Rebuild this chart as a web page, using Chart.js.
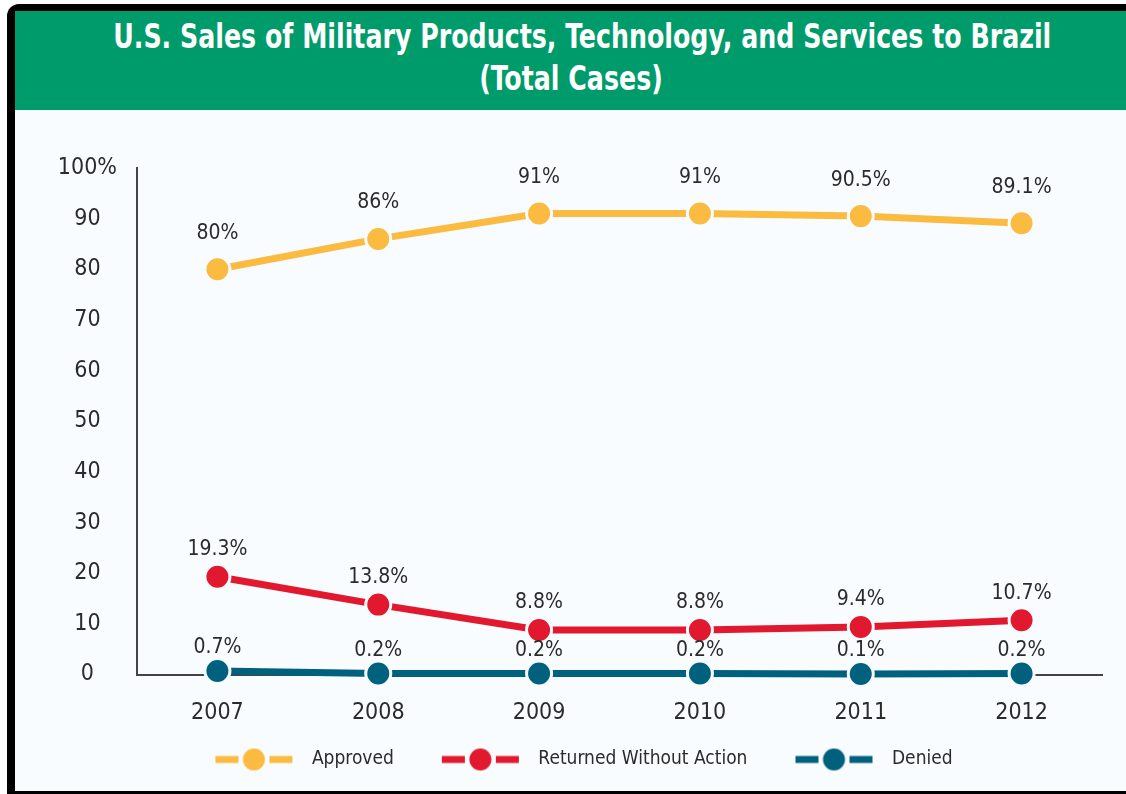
<!DOCTYPE html>
<html><head><meta charset="utf-8">
<script src="https://cdn.jsdelivr.net/npm/chart.js@4"></script>
<style>
html,body{margin:0;padding:0;background:#fff;width:1126px;height:794px;overflow:hidden;}
#frame{position:absolute;left:7px;top:4px;width:1130px;height:790px;background:#000;border-top-left-radius:12px;}
#inner{position:absolute;left:8px;top:7px;width:1111px;height:780px;background:#f8fcfe;}
#header{position:absolute;left:0;top:0;width:1111px;height:99px;background:#009b6b;color:#fff;text-align:center;font-family:'DejaVu Sans Condensed',sans-serif;font-weight:bold;font-size:34px;line-height:42px;padding-top:4px;box-sizing:border-box;}
#header span{display:inline-block;white-space:nowrap;transform-origin:50% 50%;}
#wrap{position:absolute;left:0;top:99px;width:1111px;height:681px;}
</style></head>
<body>
<div id="frame"><div id="inner">
<div id="header"><span id="t1">U.S. Sales of Military Products, Technology, and Services to Brazil</span><br><span id="t2">(Total Cases)</span></div>
<div id="wrap"><canvas id="c" width="1111" height="681"></canvas></div>
</div></div>
<script>
const years = ['2007','2008','2009','2010','2011','2012'];
const approved = [80, 86, 91, 91, 90.5, 89.1];
const returnedWithoutAction = [19.3, 13.8, 8.8, 8.8, 9.4, 10.7];
const denied = [0.7, 0.2, 0.2, 0.2, 0.1, 0.2];
const yTicks = [0,10,20,30,40,50,60,70,80,90,100];

// condense title horizontally to match the reference width
(function(){
  const t1=document.getElementById('t1'), t2=document.getElementById('t2');
  const k = 938 / t1.getBoundingClientRect().width;
  t1.style.transform='scaleX('+k+')';
  t2.style.transform='scaleX('+k+')';
})();

const FONT = "'DejaVu Sans Condensed',sans-serif";
const BG = '#f8fcfe';
const TXT = '#2b2b2b';
const YEL = '#fbba40', RED = '#e2182e', BLU = '#00617f';

function makeGlyph(color){
  const c=document.createElement('canvas'); c.width=125; c.height=26;
  const g=c.getContext('2d');
  g.fillStyle=color;
  g.fillRect(38,9.5,23,7);
  g.fillRect(92,9.5,23,7);
  g.beginPath(); g.arc(76.5,13,11,0,Math.PI*2); g.fill();
  return c;
}

const valueLabels = {
  id:'valueLabels',
  afterDatasetsDraw(chart){
    const ctx=chart.ctx; ctx.save();
    ctx.font = "21px " + FONT;
    ctx.fillStyle=TXT; ctx.textAlign='center'; ctx.textBaseline='middle';
    chart.data.datasets.forEach((ds,i)=>{
      const meta=chart.getDatasetMeta(i);
      meta.data.forEach((pt,j)=>{
        ctx.fillText(String(ds.data[j])+'%', pt.x, pt.y - ds.labelOffset);
      });
    });
    ctx.restore();
  }
};

function ds(label, data, color, off){
  return {label, data, borderColor:color, backgroundColor:color, borderWidth:7,
    pointRadius:12.5, pointHoverRadius:12.5, pointBackgroundColor:color,
    pointBorderColor:BG, pointBorderWidth:3, tension:0, clip:false,
    labelOffset:off, glyph:makeGlyph(color)};
}

new Chart(document.getElementById('c'), {
  type:'line',
  data:{labels:years, datasets:[
    ds('Approved', approved, YEL, 36),
    ds('Returned Without Action', returnedWithoutAction, RED, 27),
    ds('Denied', denied, BLU, 23)
  ]},
  options:{
    responsive:false, animation:false,
    layout:{padding:{left:13,right:24,top:58,bottom:12}},
    plugins:{
      tooltip:{enabled:false},
      legend:{position:'bottom', align:'center',
        labels:{usePointStyle:true, pointStyleWidth:125, padding:10, color:TXT,
          font:{family:FONT,size:19},
          generateLabels(chart){
            return chart.data.datasets.map((d,i)=>({text:d.label, pointStyle:d.glyph,
              fillStyle:d.borderColor, strokeStyle:d.borderColor, lineWidth:0, datasetIndex:i, fontColor:TXT}));
          }}}
    },
    scales:{
      x:{type:'category', offset:true,
        grid:{display:false, drawTicks:false},
        border:{display:true, color:'#444', width:2},
        ticks:{color:TXT, font:{family:FONT,size:23}, padding:25},
        afterFit(s){ s.height=65.5; }
      },
      y:{min:0,max:100,
        grid:{display:false, drawTicks:false},
        border:{display:true, color:'#444', width:2},
        afterBuildTicks(s){ s.ticks = yTicks.map(v=>({value:v})); },
        ticks:{color:TXT, font:{family:FONT,size:23}, padding:20, crossAlign:'center',
          callback:(v)=> v===100 ? '100%' : String(v)},
        afterFit(s){ s.width=109; }
      }
    }
  },
  plugins:[valueLabels]
});
</script>
</body></html>
